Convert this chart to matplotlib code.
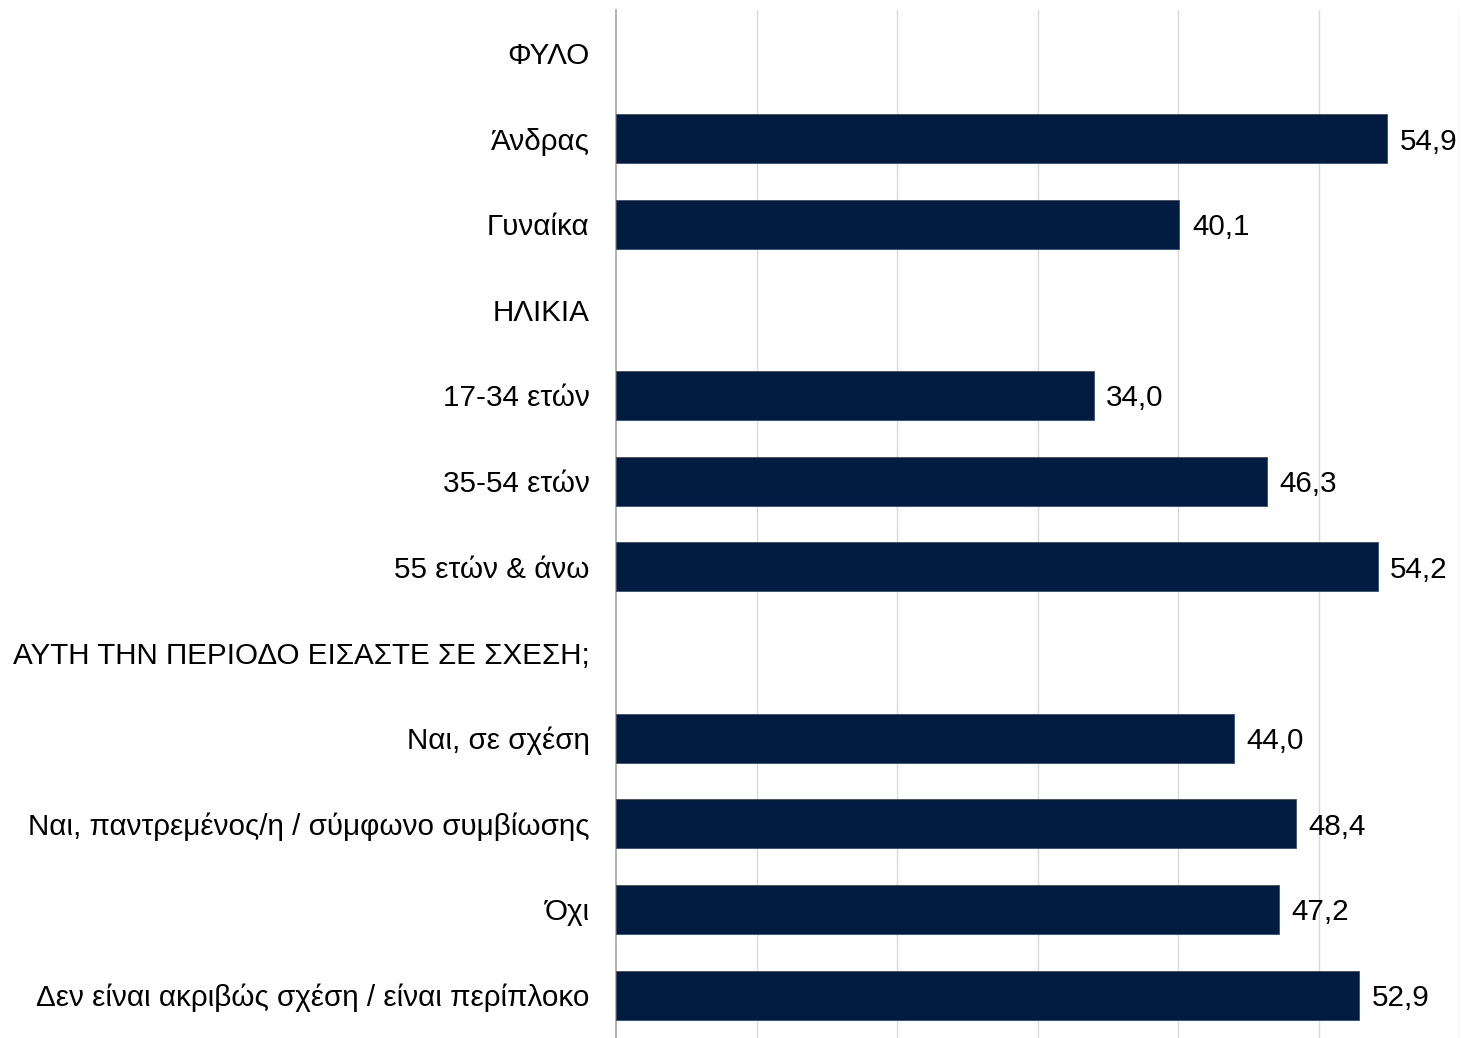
import numpy as np
from matplotlib import pyplot as plt

# Data
categories = ['ΦΥΛΟ', 'Άνδρας', 'Γυναίκα', 'ΗΛΙΚΙΑ', '17-34 ετών', '35-54 ετών',
              '55 ετών & άνω', 'ΑΥΤΗ ΤΗΝ ΠΕΡΙΟΔΟ ΕΙΣΑΣΤΕ ΣΕ ΣΧΕΣΗ;', 'Ναι, σε σχέση',
              'Ναι, παντρεμένος/η / σύμφωνο συμβίωσης', 'Όχι',
              'Δεν είναι ακριβώς σχέση / είναι περίπλοκο']
values = [np.nan, 54.9, 40.1, np.nan, 34.0, 46.3, 54.2, np.nan, 44.0, 48.4, 47.2, 52.9]

plt.rcParams['font.family'] = ['Liberation Sans', 'DejaVu Sans']

fig = plt.figure(figsize=(14.61, 10.38), dpi=100)
ax = fig.add_axes([616 / 1461, 0.0, 843 / 1461, 1 - 10 / 1038])

y = np.arange(len(categories))
vals = np.array(values, dtype=float)
has_val = ~np.isnan(vals)
# header rows have no bar
ax.barh(y[has_val], vals[has_val], height=0.57, color='#021B40',
        edgecolor='#3a4d6b', linewidth=0.6, zorder=3)

for yi, v in zip(y[has_val], vals[has_val]):
    # value label to the right of each bar
    ax.annotate('{:.1f}'.format(v).replace('.', ','), (v, yi),
                textcoords='offset points', xytext=(9, 0),
                ha='left', va='center_baseline', fontsize=21.3, color='black')

ax.set_xlim(0, 60)
ax.set_ylim(len(categories) - 0.5, -0.5)
ax.set_yticks(y)
ax.set_yticklabels(categories, fontsize=21.3)
ax.tick_params(axis='y', length=0, pad=19)
ax.set_xticks([10, 20, 30, 40, 50, 60])
ax.tick_params(axis='x', length=0, labelbottom=False)
ax.grid(axis='x', color='#d9d9d9', linewidth=1, zorder=0)

for side in ['top', 'right', 'bottom']:
    ax.spines[side].set_visible(False)
ax.spines['left'].set_color('#a6a6a6')
ax.spines['left'].set_linewidth(1.2)

fig.savefig('out.png', dpi=100)
